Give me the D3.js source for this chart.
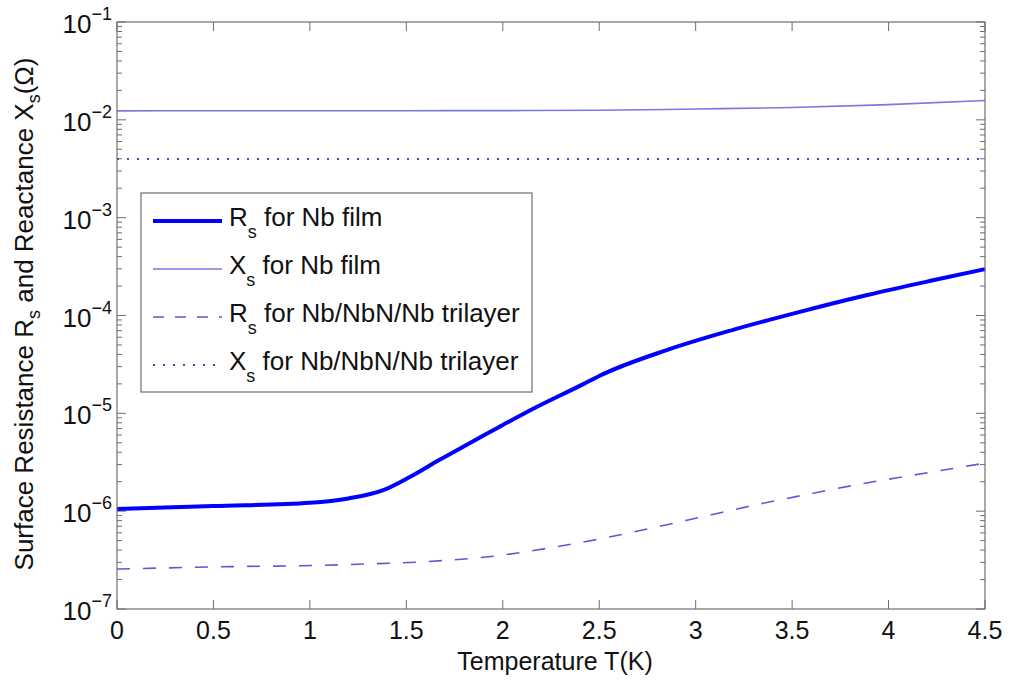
<!DOCTYPE html>
<html>
<head>
<meta charset="utf-8">
<script src="https://cdn.jsdelivr.net/npm/d3@7"></script>
<style>
  body { margin: 0; background: #fff; }
  svg { display: block; font-family: "Liberation Sans", Arial, sans-serif; }
</style>
</head>
<body>
<svg id="chart" width="1011" height="683"></svg>
<script>
// ---- data ----
const rsNbT   = [0, 0.5, 1.0, 1.2, 1.38, 1.52, 1.67, 1.83, 2.0, 2.16, 2.42, 2.5, 2.85, 3.19, 3.54, 3.89, 4.23, 4.5];
const rsNbV   = [1.05e-6, 1.13e-6, 1.22e-6, 1.35e-6, 1.64e-6, 2.25e-6, 3.33e-6, 4.97e-6, 7.6e-6, 1.12e-5, 2.0e-5, 2.41e-5, 4.43e-5, 7.1e-5, 1.09e-4, 1.62e-4, 2.29e-4, 2.98e-4];
const xsNbT   = [0, 0.5, 1.0, 1.5, 2.0, 2.5, 3.0, 3.5, 4.0, 4.5];
const xsNbV   = [0.01236, 0.01237, 0.01238, 0.0124, 0.01243, 0.01252, 0.0129, 0.01336, 0.0143, 0.01575];
const rsTriT  = [0, 0.59, 0.96, 1.28, 1.59, 1.96, 2.23, 2.5, 2.78, 3.05, 3.32, 3.59, 3.86, 4.13, 4.39, 4.5];
const rsTriV  = [2.56e-7, 2.71e-7, 2.77e-7, 2.88e-7, 3.04e-7, 3.48e-7, 4.17e-7, 5.19e-7, 6.77e-7, 8.9e-7, 1.17e-6, 1.5e-6, 1.9e-6, 2.34e-6, 2.85e-6, 3.1e-6];
const xsTriT  = [0, 1.5, 3.0, 4.5];
const xsTriV  = [0.00397, 0.00397, 0.00397, 0.00397];
const xTicks  = [0, 0.5, 1, 1.5, 2, 2.5, 3, 3.5, 4, 4.5];
const yExps   = [-7, -6, -5, -4, -3, -2, -1];
const legendLabels = [
  ["R", "s", " for Nb film"],
  ["X", "s", " for Nb film"],
  ["R", "s", " for Nb/NbN/Nb trilayer"],
  ["X", "s", " for Nb/NbN/Nb trilayer"]
];

// ---- layout ----
const L = 117, R = 985, T = 22, B = 609;
const FS = 26, XFS = 25, SFS = 18;
const axisColor = "#6e6e6e";
const svg = d3.select("#chart");
const x = d3.scaleLinear().domain([0, 4.5]).range([L, R]);
const y = d3.scaleLog().domain([1e-7, 1e-1]).range([B, T]);

const styles = [
  { stroke: "#0000ff", width: 4,   dash: null },
  { stroke: "#7878e2", width: 1.6, dash: null },
  { stroke: "#5a5ad8", width: 1.6, dash: "13,13" },
  { stroke: "#4848b8", width: 2,   dash: "2,8" }
];

// ---- ticks ----
const g = svg.append("g");
const majorLen = 9, minorLen = 5;
xTicks.forEach(t => {
  const px = x(t);
  g.append("line").attr("x1", px).attr("x2", px).attr("y1", B).attr("y2", B - majorLen).attr("stroke", axisColor);
  g.append("line").attr("x1", px).attr("x2", px).attr("y1", T).attr("y2", T + majorLen).attr("stroke", axisColor);
  g.append("text").attr("x", px).attr("y", 639).attr("text-anchor", "middle")
    .attr("font-size", XFS).attr("fill", "#111").text(String(t));
});
yExps.forEach(e => {
  const py = y(Math.pow(10, e));
  g.append("line").attr("x1", L).attr("x2", L + majorLen).attr("y1", py).attr("y2", py).attr("stroke", axisColor);
  g.append("line").attr("x1", R).attr("x2", R - majorLen).attr("y1", py).attr("y2", py).attr("stroke", axisColor);
  const txt = g.append("text").attr("x", 112).attr("y", py + 11).attr("text-anchor", "end")
    .attr("font-size", FS).attr("fill", "#111");
  txt.append("tspan").text("10");
  txt.append("tspan").attr("font-size", SFS).attr("dy", -13).text("\u2212" + Math.abs(e));
  if (e < -1) {
    for (let k = 2; k <= 9; k++) {
      const pm = y(k * Math.pow(10, e));
      g.append("line").attr("x1", L).attr("x2", L + minorLen).attr("y1", pm).attr("y2", pm).attr("stroke", axisColor);
      g.append("line").attr("x1", R).attr("x2", R - minorLen).attr("y1", pm).attr("y2", pm).attr("stroke", axisColor);
    }
  }
});

// ---- lines ----
const line = d3.line().x(d => x(d[0])).y(d => y(d[1])).curve(d3.curveMonotoneX);
const series = [
  d3.zip(rsNbT, rsNbV),
  d3.zip(xsNbT, xsNbV),
  d3.zip(rsTriT, rsTriV),
  d3.zip(xsTriT, xsTriV)
];
[1, 3, 2, 0].forEach(i => {
  const s = styles[i];
  svg.append("path").attr("d", line(series[i])).attr("fill", "none")
    .attr("stroke", s.stroke).attr("stroke-width", s.width)
    .attr("stroke-dasharray", s.dash);
});

// frame
svg.append("rect").attr("x", L).attr("y", T).attr("width", R - L).attr("height", B - T)
  .attr("fill", "none").attr("stroke", axisColor).attr("stroke-width", 1.2);

// ---- axis titles ----
svg.append("text").attr("x", 555).attr("y", 670).attr("text-anchor", "middle")
  .attr("font-size", XFS).attr("fill", "#111").text("Temperature T(K)");

const yt = svg.append("text").attr("transform", "translate(33,314) rotate(-90)")
  .attr("text-anchor", "middle").attr("font-size", FS).attr("fill", "#111");
yt.append("tspan").text("Surface Resistance R");
yt.append("tspan").attr("font-size", SFS).attr("dy", 7).text("s");
yt.append("tspan").attr("dy", -7).text(" and Reactance X");
yt.append("tspan").attr("font-size", SFS).attr("dy", 7).text("s");
yt.append("tspan").attr("dy", -7).text("(\u03A9)");

// ---- legend ----
const lg = svg.append("g");
lg.append("rect").attr("x", 141).attr("y", 193).attr("width", 391).attr("height", 199)
  .attr("fill", "#fff").attr("stroke", axisColor).attr("stroke-width", 1.2);
legendLabels.forEach((lab, i) => {
  const ly = 221 + i * 48;
  const s = styles[i];
  lg.append("line").attr("x1", 153).attr("x2", 222).attr("y1", ly).attr("y2", ly)
    .attr("stroke", s.stroke).attr("stroke-width", s.width)
    .attr("stroke-dasharray", i === 2 ? "11,11" : s.dash);
  const t = lg.append("text").attr("x", 229).attr("y", ly + 5).attr("font-size", FS).attr("fill", "#111");
  t.append("tspan").text(lab[0]);
  t.append("tspan").attr("font-size", SFS).attr("dy", 12).text(lab[1]);
  t.append("tspan").attr("dy", -12).text(lab[2]);
});
</script>
</body>
</html>
